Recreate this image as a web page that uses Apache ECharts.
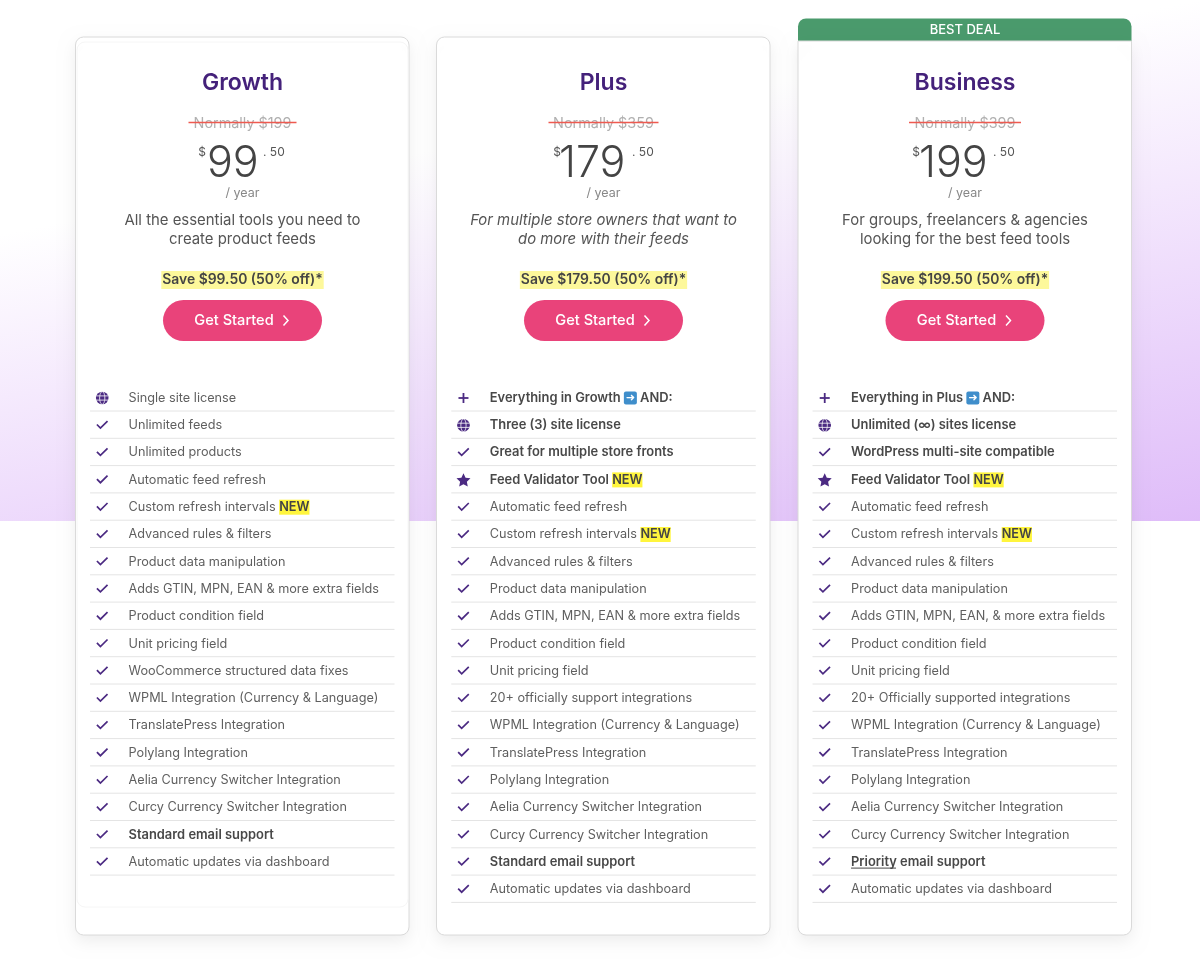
<!DOCTYPE html>
<html>
<head>
<meta charset="utf-8">
<title>Pricing</title>
<script src="https://cdn.jsdelivr.net/npm/echarts@6/dist/echarts.min.js"></script>
<style>
html,body{margin:0;padding:0;background:#fff}
#main{width:1200px;height:959px}
</style>
</head>
<body>
<div id="main"></div>
<script>
// plan data
var planNames = ['Growth', 'Plus', 'Business'];
var normalPrices = ['Normally $199', 'Normally $359', 'Normally $399'];
var prices = ['99', '179', '199'];
var cents = ['50', '50', '50'];
var descLines = [
    ['All the essential tools you need to', 'create product feeds'],
    ['For multiple store owners that want to', 'do more with their feeds'],
    ['For groups, freelancers & agencies', 'looking for the best feed tools']
];
var saveTexts = ['Save $99.50 (50% off)*', 'Save $179.50 (50% off)*', 'Save $199.50 (50% off)*'];

var growthFeatures = [
    'Single site license', 'Unlimited feeds', 'Unlimited products', 'Automatic feed refresh',
    'Custom refresh intervals {n|NEW}', 'Advanced rules & filters', 'Product data manipulation',
    'Adds GTIN, MPN, EAN & more extra fields', 'Product condition field', 'Unit pricing field',
    'WooCommerce structured data fixes', 'WPML Integration (Currency & Language)',
    'TranslatePress Integration', 'Polylang Integration', 'Aelia Currency Switcher Integration',
    'Curcy Currency Switcher Integration', '{b|Standard email support}', 'Automatic updates via dashboard'
];
var plusFeatures = [
    '{b|Everything in Growth }{a|➜}{b| AND:}', '{b|Three (3) site license}', '{b|Great for multiple store fronts}',
    '{b|Feed Validator Tool }{n|NEW}', 'Automatic feed refresh', 'Custom refresh intervals {n|NEW}',
    'Advanced rules & filters', 'Product data manipulation', 'Adds GTIN, MPN, EAN & more extra fields',
    'Product condition field', 'Unit pricing field', '20+ officially support integrations',
    'WPML Integration (Currency & Language)', 'TranslatePress Integration', 'Polylang Integration',
    'Aelia Currency Switcher Integration', 'Curcy Currency Switcher Integration',
    '{b|Standard email support}', 'Automatic updates via dashboard'
];
var businessFeatures = [
    '{b|Everything in Plus }{a|➜}{b| AND:}', '{b|Unlimited (∞) sites license}', '{b|WordPress multi-site compatible}',
    '{b|Feed Validator Tool }{n|NEW}', 'Automatic feed refresh', 'Custom refresh intervals {n|NEW}',
    'Advanced rules & filters', 'Product data manipulation', 'Adds GTIN, MPN, EAN, & more extra fields',
    'Product condition field', 'Unit pricing field', '20+ Officially supported integrations',
    'WPML Integration (Currency & Language)', 'TranslatePress Integration', 'Polylang Integration',
    'Aelia Currency Switcher Integration', 'Curcy Currency Switcher Integration',
    '{b|Priority email support}', 'Automatic updates via dashboard'
];
var growthIcons = ['globe'];
var plusIcons = ['plus', 'globe', 'check', 'star'];
var businessIcons = ['plus', 'globe', 'check', 'star'];

var allFeatures = [growthFeatures, plusFeatures, businessFeatures];
var allIcons = [growthIcons, plusIcons, businessIcons];
var rowLabels = [];
for (var n = 0; n < 19; n++) { rowLabels.push(n); }

var FONT = 'Inter, "Noto Sans", sans-serif';
var PURPLE = '#4b2a82';
var centers = [242.5, 603.5, 965];

// one row per plan and feature
var rowData = [];
for (var p = 0; p < allFeatures.length; p++) {
    for (var r = 0; r < allFeatures[p].length; r++) {
        rowData.push({value: [p, r], text: allFeatures[p][r], icon: allIcons[p][r] || 'check'});
    }
}

function iconShape(type, x, y) {
    if (type == 'check') {
        return [{type: 'polyline', shape: {points: [[x - 5.3, y - 0.8], [x - 1.8, y + 2.8], [x + 5.3, y - 4.2]]},
            style: {stroke: PURPLE, fill: null, lineWidth: 1.7}}];
    }
    if (type == 'plus') {
        return [
            {type: 'line', shape: {x1: x - 5, y1: y, x2: x + 5, y2: y}, style: {stroke: PURPLE, lineWidth: 1.8}},
            {type: 'line', shape: {x1: x, y1: y - 5, x2: x, y2: y + 5}, style: {stroke: PURPLE, lineWidth: 1.8}}
        ];
    }
    if (type == 'star') {
        return [{type: 'path', shape: {pathData: 'M12 1 L15.4 8.2 L23.4 9.2 L17.5 14.7 L19 22.6 L12 18.7 L5 22.6 L6.5 14.7 L0.6 9.2 L8.6 8.2 Z',
            x: x - 7, y: y - 7, width: 14, height: 14}, style: {fill: PURPLE}}];
    }
    return [
        {type: 'circle', shape: {cx: x, cy: y, r: 6.3}, style: {fill: PURPLE}},
        {type: 'ellipse', shape: {cx: x, cy: y, rx: 2.6, ry: 6.3}, style: {stroke: '#fff', fill: null, lineWidth: 0.8}},
        {type: 'line', shape: {x1: x - 6.3, y1: y - 2.1, x2: x + 6.3, y2: y - 2.1}, style: {stroke: '#fff', lineWidth: 0.8}},
        {type: 'line', shape: {x1: x - 6.3, y1: y + 2.1, x2: x + 6.3, y2: y + 2.1}, style: {stroke: '#fff', lineWidth: 0.8}}
    ];
}

function renderRow(params, api) {
    var item = rowData[params.dataIndex];
    var pt = api.coord([api.value(0), api.value(1)]);
    var cx = pt[0], y = pt[1];
    var kids = iconShape(item.icon, cx - 140.3, y);
    kids.push({type: 'text', style: {
        x: cx - 114, y: y, text: item.text, verticalAlign: 'middle', align: 'left',
        font: '12.7px ' + FONT, fill: '#5f5f5f',
        rich: {
            b: {font: '600 12.9px ' + FONT, fill: '#484848'},
            n: {font: '600 12.7px ' + FONT, fill: '#444', backgroundColor: '#fff53d', padding: [1, 0, 1, 0]},
            a: {font: '11px "DejaVu Sans"', fill: '#fff', backgroundColor: '#3f8ecb', borderRadius: 2, width: 13, height: 13, lineHeight: 13, align: 'center'}
        }
    }});
    kids.push({type: 'line', shape: {x1: cx - 152.5, y1: y + 13, x2: cx + 152, y2: y + 13},
        style: {stroke: '#e4e4e4', lineWidth: 1}});
    if (item.text.indexOf('{b|Priority') == 0) {
        kids.push({type: 'line', shape: {x1: cx - 114, y1: y + 6, x2: cx - 69, y2: y + 6},
            style: {stroke: '#484848', lineWidth: 1}});
    }
    return {type: 'group', children: kids};
}

function textEl(x, y, text, font, fill, align, extra) {
    var st = {x: x, y: y, text: text, font: font + ' ' + FONT, fill: fill, align: align || 'center', verticalAlign: 'middle'};
    for (var k in extra) { st[k] = extra[k]; }
    return {type: 'text', z: 3, style: st};
}

function buildGraphic() {
    var els = [];
    // page background, white below the fold line
    els.push({type: 'rect', z: 1, shape: {x: 0, y: 0, width: 1200, height: 521},
        style: {fill: new echarts.graphic.LinearGradient(1200, 0, 1298, 502,
            [{offset: 0, color: '#ffffff'}, {offset: 1, color: '#dfbcf9'}], true)}});

    var cardL = [75.5, 436.5, 798];
    var priceL = [-34.5, -43.5, -45];
    var dollarR = [-36.5, -42.5, -45];
    var priceR = [15.5, 23.5, 23];
    var strike = [54, 55, 56];
    for (var i = 0; i < 3; i++) {
        var cx = centers[i];
        // green tab goes behind the card
        if (i == 2) {
            els.push({type: 'rect', z: 1, shape: {x: cardL[i], y: 18.5, width: 333.5, height: 40, r: [8, 8, 0, 0]},
                style: {fill: '#4a9a6c'}});
        }
        els.push({type: 'rect', z: 2, shape: {x: cardL[i], y: i == 2 ? 41 : 37, width: 333.5, height: i == 2 ? 894 : 898, r: i == 2 ? [0, 0, 8, 8] : 8},
            style: {fill: '#fff', stroke: '#dadada', lineWidth: 1, shadowBlur: 16, shadowOffsetY: 6, shadowColor: 'rgba(0,0,0,0.07)'}});
        if (i == 0) {
            els.push({type: 'rect', z: 2, shape: {x: 77, y: 42, width: 331, height: 865, r: 8},
                style: {fill: 'none', stroke: '#f6f6f6', lineWidth: 1}});
        }
        if (i == 2) {
            els.push(textEl(cx, 30, 'BEST DEAL', '500 13px', '#fff'));
        }
        els.push(textEl(cx, 83, planNames[i], '600 23px', '#44217a'));
        els.push(textEl(cx, 124, normalPrices[i], '14.4px', '#b0b0b0'));
        els.push({type: 'line', z: 4, shape: {x1: cx - strike[i], y1: 122.5, x2: cx + strike[i], y2: 122.5},
            style: {stroke: '#ee5a50', lineWidth: 1.6}});
        els.push(textEl(cx + priceL[i] - 1, 164, prices[i], '300 43px', '#444', 'left'));
        els.push(textEl(cx + dollarR[i], 152, '$', '12px', '#555', 'right'));
        els.push(textEl(cx + priceR[i] + 5, 152, '. ' + cents[i], '12px', '#555', 'left'));
        els.push(textEl(cx, 193, '/ year', '12.5px', '#888'));
        var dFont = i == 1 ? 'italic 14.9px' : '14.9px';
        els.push(textEl(cx, 221, descLines[i][0], dFont, '#555'));
        els.push(textEl(cx, 240, descLines[i][1], dFont, '#555'));
        els.push(textEl(cx, 280, saveTexts[i], '600 13.9px', '#444', 'center',
            {backgroundColor: '#fdf89b', padding: [2, 1, 2, 1]}));
        els.push({type: 'rect', z: 3, shape: {x: cx - 79.5, y: 300, width: 159, height: 41, r: 20.5},
            style: {fill: '#e9437a'}});
        els.push(textEl(cx - 8.5, 321, 'Get Started', '500 14.6px', '#fff'));
        els.push({type: 'polyline', z: 4, shape: {points: [[cx + 41, 315.5], [cx + 45.5, 320.5], [cx + 41, 325.5]]},
            style: {stroke: '#fff', fill: null, lineWidth: 1.5}});
    }
    return els;
}

var myChart = echarts.init(document.getElementById('main'), null, {renderer: 'canvas'});
var option = {
    animation: false,
    backgroundColor: '#fff',
    grid: {left: 61.9, width: 1083.75, top: 384.35, height: 518.7},
    xAxis: {type: 'category', data: planNames, show: false},
    yAxis: {type: 'category', data: rowLabels, inverse: true, show: false},
    graphic: {elements: buildGraphic()},
    series: [{
        type: 'custom',
        z: 10,
        coordinateSystem: 'cartesian2d',
        renderItem: renderRow,
        data: rowData
    }]
};
myChart.setOption(option);
</script>
</body>
</html>
